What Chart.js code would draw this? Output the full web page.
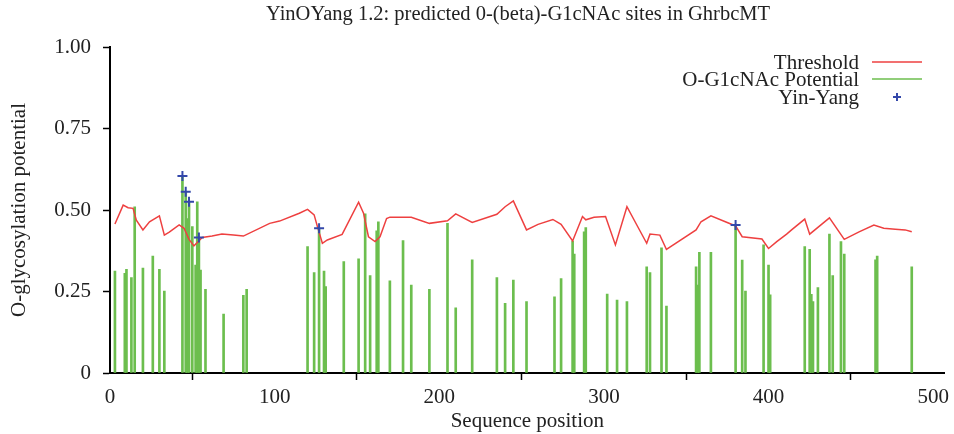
<!DOCTYPE html>
<html>
<head>
<meta charset="utf-8">
<script src="https://cdn.jsdelivr.net/npm/chart.js@4.4.1/dist/chart.umd.min.js"></script>
<style>
  html, body { margin: 0; padding: 0; background: #fff; }
  #wrap { width: 954px; height: 434px; }
</style>
</head>
<body>
<div id="wrap"><canvas id="chart" width="954" height="434"></canvas></div>
<script>
// sequence positions / O-GlcNAc potential (green bars)
const sitePos = [3, 9, 10, 13, 15, 20, 26, 30, 33, 44, 46, 47, 48, 50, 52, 53, 54, 55, 58, 69, 81, 83,
    120, 124, 127, 130, 131, 142, 151, 155, 158, 162, 163, 170, 178, 183, 194, 205, 210, 220, 235, 240,
    245, 253, 270, 274, 281, 282, 288, 289, 302, 308, 314, 326, 328, 335, 338, 356, 357, 358, 365, 380,
    384, 386, 397, 400, 401, 422, 425, 426, 427, 430, 437, 439, 444, 446, 465, 466, 487];
const sitePotential = [0.313, 0.306, 0.318, 0.293, 0.51, 0.322, 0.359, 0.318, 0.251, 0.604, 0.556, 0.474,
    0.525, 0.449, 0.331, 0.525, 0.416, 0.316, 0.257, 0.181, 0.238, 0.257,
    0.388, 0.308, 0.444, 0.313, 0.265, 0.342, 0.35, 0.488, 0.299, 0.436, 0.464, 0.283, 0.406, 0.27, 0.257,
    0.459, 0.2, 0.347, 0.293, 0.214, 0.285, 0.219, 0.234, 0.29, 0.405, 0.365, 0.433, 0.446, 0.242, 0.224,
    0.219, 0.326, 0.308, 0.384, 0.205, 0.326, 0.27, 0.37, 0.37, 0.454, 0.346, 0.251, 0.393, 0.331, 0.24,
    0.388, 0.379, 0.241, 0.219, 0.262, 0.426, 0.299, 0.403, 0.365, 0.347, 0.359, 0.326];

// threshold curve (red)
const threshPos = [3, 8, 11, 14, 16, 20, 24, 30, 33, 36, 42, 45, 48, 51, 53, 56, 62, 68, 75, 81, 97, 103,
    115, 120, 124, 126, 129, 132, 141, 151, 154, 157, 161, 164, 168, 170, 183, 194, 205, 210, 220, 235,
    240, 245, 253, 260, 269, 274, 281, 287, 289, 294, 301, 307, 314, 320, 326, 328, 334, 338, 356, 359,
    365, 380, 384, 396, 400, 405, 411, 414, 422, 425, 437, 446, 455, 464, 470, 477, 483, 487];
const threshVal = [0.457, 0.515, 0.507, 0.505, 0.469, 0.439, 0.464, 0.482, 0.423, 0.432, 0.454, 0.444,
    0.41, 0.39, 0.40, 0.416, 0.42, 0.426, 0.423, 0.42, 0.459, 0.466,
    0.49, 0.502, 0.485, 0.449, 0.398, 0.408, 0.425, 0.524, 0.49, 0.418, 0.403, 0.418, 0.474, 0.478, 0.478,
    0.459, 0.467, 0.488, 0.462, 0.487, 0.51, 0.528, 0.439, 0.456, 0.471, 0.456, 0.405, 0.48, 0.47, 0.478,
    0.48, 0.393, 0.51, 0.454, 0.398, 0.426, 0.423, 0.379, 0.439, 0.464, 0.482, 0.451, 0.418, 0.411, 0.382,
    0.403, 0.426, 0.439, 0.472, 0.426, 0.476, 0.41, 0.433, 0.454, 0.444, 0.441, 0.439, 0.433];

// Yin-Yang sites (blue crosses)
const yinYangPos = [44, 46, 48, 54, 127, 380];
const yinYangVal = [0.604, 0.556, 0.525, 0.416, 0.444, 0.454];

const xTicks = [0, 100, 200, 300, 400, 500];
const yTicks = [0, 0.25, 0.5, 0.75, 1];
const yTickLabels = ['0', '0.25', '0.50', '0.75', '1.00'];

const serif = "'Liberation Serif', 'Times New Roman', serif";
const red = 'rgb(238, 64, 64)';
const green = 'rgb(108, 190, 78)';
const blue = 'rgb(52, 72, 170)';

const toPoints = (xs, ys) => xs.map((x, i) => ({ x: x, y: ys[i] }));

// title and legend drawn on the canvas
const decorations = {
    id: 'decorations',
    afterDraw(chart) {
        const ctx = chart.ctx;
        ctx.save();
        ctx.fillStyle = '#222';
        ctx.font = '20.5px ' + serif;
        ctx.textAlign = 'center';
        ctx.textBaseline = 'middle';
        ctx.fillText('YinOYang 1.2: predicted 0-(beta)-G1cNAc sites in GhrbcMT', 518, 15);

        ctx.font = '21px ' + serif;
        ctx.textAlign = 'right';
        ctx.fillText('Threshold', 859, 63);
        ctx.fillText('O-G1cNAc Potential', 859, 80);
        ctx.fillText('Yin-Yang', 859, 98);

        ctx.lineWidth = 1.5;
        ctx.strokeStyle = red;
        ctx.beginPath(); ctx.moveTo(872, 62); ctx.lineTo(922, 62); ctx.stroke();
        ctx.strokeStyle = green;
        ctx.beginPath(); ctx.moveTo(872, 79); ctx.lineTo(922, 79); ctx.stroke();
        ctx.strokeStyle = blue;
        ctx.lineWidth = 2;
        ctx.beginPath();
        ctx.moveTo(893, 97); ctx.lineTo(901, 97);
        ctx.moveTo(897, 93); ctx.lineTo(897, 101);
        ctx.stroke();
        ctx.restore();
    }
};

new Chart(document.getElementById('chart'), {
    type: 'bar',
    data: {
        datasets: [{
            type: 'line',
            label: 'Yin-Yang',
            data: toPoints(yinYangPos, yinYangVal),
            showLine: false,
            pointStyle: 'cross',
            pointRadius: 5,
            borderWidth: 2,
            borderColor: blue,
            order: 1
        }, {
            type: 'line',
            label: 'Threshold',
            data: toPoints(threshPos, threshVal),
            borderColor: red,
            borderWidth: 1.5,
            pointRadius: 0,
            tension: 0,
            order: 2
        }, {
            type: 'bar',
            label: 'O-G1cNAc Potential',
            data: toPoints(sitePos, sitePotential),
            backgroundColor: green,
            barThickness: 2,
            order: 3
        }]
    },
    options: {
        responsive: false,
        animation: false,
        layout: { padding: { top: 47, right: 6, left: 0, bottom: 0 } },
        plugins: {
            legend: { display: false },
            tooltip: { enabled: false },
            title: { display: false }
        },
        scales: {
            x: {
                type: 'linear',
                offset: false,
                min: 0,
                max: 507,
                afterBuildTicks: (s) => { s.ticks = xTicks.map(v => ({ value: v })); },
                afterFit: (s) => { s.height = 61; },
                grid: { drawOnChartArea: false, tickLength: 7, tickColor: '#000', tickWidth: 1.5 },
                border: { color: '#000', width: 2 },
                ticks: { color: '#222', font: { family: serif, size: 21 }, padding: 5, maxRotation: 0 },
                title: { display: true, text: 'Sequence position', color: '#222',
                    font: { family: serif, size: 21 }, padding: { top: 0, bottom: 0 } }
            },
            y: {
                min: 0,
                max: 1,
                afterBuildTicks: (s) => { s.ticks = yTicks.map(v => ({ value: v })); },
                afterFit: (s) => { s.width = 110; },
                grid: { drawOnChartArea: false, tickLength: 7, tickColor: '#000', tickWidth: 1.5 },
                border: { color: '#000', width: 2 },
                ticks: {
                    color: '#222', font: { family: serif, size: 21 }, padding: 12,
                    callback: (v) => yTickLabels[yTicks.indexOf(v)]
                },
                title: { display: true, text: 'O-glycosylation potential', color: '#222',
                    font: { family: serif, size: 21 }, padding: { top: 7, bottom: 0 } }
            }
        }
    },
    plugins: [decorations]
});
</script>
</body>
</html>
